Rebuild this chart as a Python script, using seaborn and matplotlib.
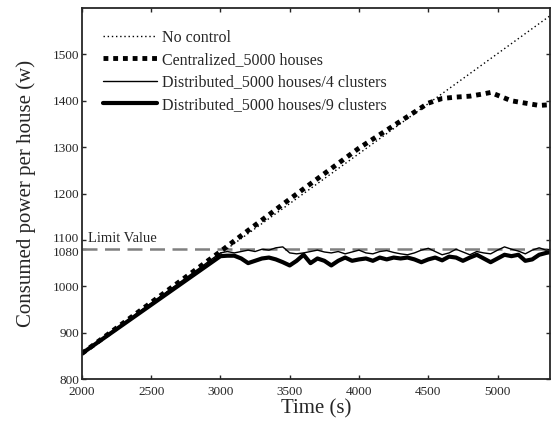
import numpy as np
import pandas as pd
import matplotlib
matplotlib.use("Agg")
import matplotlib.pyplot as plt
import seaborn as sns
from matplotlib.transforms import ScaledTranslation

# valores
t_nocontrol = [2000, 5400]
p_nocontrol = [855, 1588]

t_central = [2000, 2500, 3000, 3100, 3500, 4000, 4500, 4600, 4700, 4800,
             4900, 4950, 5000, 5100, 5200, 5300, 5400]
p_central = [855, 965, 1075, 1098, 1188, 1298, 1395, 1405, 1408, 1410,
             1415, 1418, 1412, 1400, 1395, 1390, 1392]

t_dist = [2000, 3000, 3050, 3100, 3150, 3200, 3250, 3300, 3350, 3400, 3450,
          3500, 3550, 3600, 3650, 3700, 3750, 3800, 3850, 3900, 3950,
          4000, 4050, 4100, 4150, 4200, 4250, 4300, 4350, 4400, 4450,
          4500, 4550, 4600, 4650, 4700, 4750, 4800, 4850, 4900, 4950,
          5000, 5050, 5100, 5150, 5200, 5250, 5300, 5350, 5400]
p_dist4 = [855, 1072, 1075, 1072, 1075, 1078, 1075, 1080, 1078, 1083, 1085,
           1072, 1070, 1072, 1075, 1078, 1074, 1072, 1075, 1070, 1074,
           1078, 1072, 1070, 1075, 1077, 1073, 1070, 1068, 1072, 1078,
           1082, 1075, 1068, 1072, 1080, 1074, 1068, 1075, 1072, 1070,
           1078, 1085, 1080, 1076, 1070, 1078, 1083, 1078, 1080]
p_dist9 = [855, 1065, 1066, 1066, 1060, 1050, 1055, 1060, 1062, 1058, 1052,
           1045, 1055, 1068, 1050, 1060, 1055, 1045, 1055, 1062, 1055,
           1058, 1060, 1055, 1062, 1058, 1062, 1060, 1062, 1058, 1052,
           1058, 1062, 1056, 1064, 1062, 1055, 1062, 1068, 1060, 1052,
           1060, 1068, 1065, 1068, 1055, 1058, 1068, 1072, 1075]

limit_value = 1080
y_ticks = [800, 900, 1000, 1080, 1100, 1200, 1300, 1400, 1500]
x_ticks = [2000, 2500, 3000, 3500, 4000, 4500, 5000]

sns.set_style("ticks")
plt.rcParams['font.family'] = ['Liberation Serif', 'DejaVu Serif']
plt.rcParams['xtick.direction'] = 'in'
plt.rcParams['ytick.direction'] = 'in'

fig = plt.figure(figsize=(5.53, 4.24), dpi=100)
ax = fig.add_axes([0.148, 0.106, 0.847, 0.875])

ax.axhline(limit_value, color='#808080', linestyle=(0, (6, 3)), linewidth=1.8)

sns.lineplot(x=t_nocontrol, y=p_nocontrol, ax=ax, color='black',
             linestyle=(0, (1, 2)), linewidth=1.0, label='No control')
sns.lineplot(x=t_central, y=p_central, ax=ax, color='black',
             linestyle=(0, (1.0, 1.0)), linewidth=3.5, label='Centralized_5000 houses')
sns.lineplot(x=t_dist, y=p_dist4, ax=ax, color='black',
             linewidth=1.0, label='Distributed_5000 houses/4 clusters')
sns.lineplot(x=t_dist, y=p_dist9, ax=ax, color='black',
             linewidth=3.0, label='Distributed_5000 houses/9 clusters')

ax.text(2045, 1090, 'Limit Value', fontsize=10.5, ha='left', va='bottom')

ax.set_xlim(2000, 5380)
ax.set_ylim(800, 1600)
ax.set_xticks(x_ticks)
ax.set_yticks(y_ticks)
ax.tick_params(axis='x', labelsize=9.5, top=True, length=3, width=1, pad=5)
ax.tick_params(axis='y', labelsize=9.5, right=True, length=3, width=1, pad=2)
for s in ax.spines.values():
    s.set_linewidth(1.3)
    s.set_visible(True)

# afastar um pouco os rótulos 1100 / 1080
for lab in ax.get_yticklabels():
    if lab.get_text() == '1100':
        lab.set_transform(lab.get_transform() + ScaledTranslation(0, 2 / 72, fig.dpi_scale_trans))
    elif lab.get_text() == '1080':
        lab.set_transform(lab.get_transform() + ScaledTranslation(0, -2 / 72, fig.dpi_scale_trans))

ax.set_xlabel('Time (s)', fontsize=15, labelpad=1)
ax.set_ylabel('Consumed power per house (w)', fontsize=15, labelpad=12)

ax.legend(loc='upper left', frameon=False, fontsize=11.5, handlelength=3.4,
          handletextpad=0.3, labelspacing=0.4, borderaxespad=0.6,
          bbox_to_anchor=(0.01, 0.985))

fig.savefig('out.png', dpi=100)
